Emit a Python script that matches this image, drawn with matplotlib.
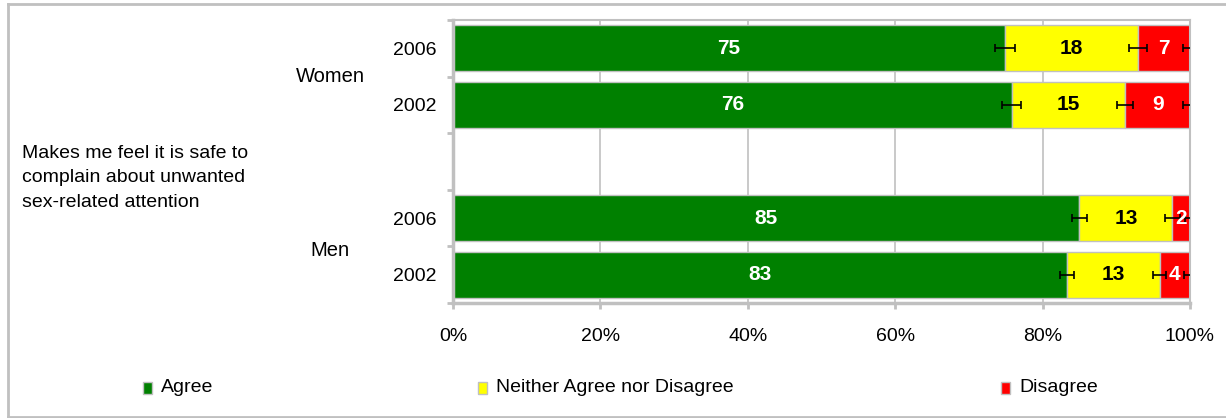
import matplotlib

matplotlib.use("Agg")
import matplotlib.pyplot as plt  # noqa: E402
from matplotlib.patches import Rectangle  # noqa: E402
from matplotlib.lines import Line2D  # noqa: E402

plt.rcParams["font.family"] = ["Liberation Sans", "DejaVu Sans"]

GREEN = "#008000"
YELLOW = "#ffff00"
RED = "#ff0000"
GREY = "#c0c0c0"

# rows top to bottom; slot 2 is an empty spacer between Women and Men
years = ["2006", "2002", "2006", "2002"]
slots = [0, 1, 3, 4]
groups = ["Women", "Men"]
agree = [74.9, 75.8, 85.0, 83.3]
neither = [18.0, 15.4, 12.6, 12.6]
disagree = [7.1, 8.8, 2.4, 4.1]
agree_err = [1.4, 1.25, 1.0, 1.0]
neither_err = [1.2, 1.1, 1.0, 0.9]
disagree_err = [1.0, 1.0, 0.7, 0.8]
series = ["Agree", "Neither Agree nor Disagree", "Disagree"]
question = "Makes me feel it is safe to\ncomplain about unwanted\nsex-related attention"

W, H = 1226, 418
fig = plt.figure(figsize=(W / 100, H / 100), dpi=100)
ax = fig.add_axes([453 / W, 1 - 303 / H, (1190 - 453) / W, (303 - 20) / H])

bh = 0.81
left2 = [a + n for a, n in zip(agree, neither)]
ax.barh(slots, agree, height=bh, color=GREEN, edgecolor=GREY, linewidth=1, zorder=2)
ax.barh(slots, neither, left=agree, height=bh, color=YELLOW, edgecolor=GREY, linewidth=1, zorder=2)
ax.barh(slots, disagree, left=left2, height=bh, color=RED, edgecolor=GREY, linewidth=1, zorder=2)

ends3 = [a + n + d for a, n, d in zip(agree, neither, disagree)]
for xs, errs in [(agree, agree_err), (left2, neither_err), (ends3, disagree_err)]:
    ax.errorbar(xs, slots, xerr=errs, fmt="none", ecolor="black", elinewidth=1.2,
                capsize=3.2, capthick=1.2, zorder=4)

for i, y in enumerate(slots):
    ax.text(agree[i] / 2, y, f"{round(agree[i])}", ha="center", va="center",
            color="white", fontsize=15, fontweight="bold", zorder=5)
    ax.text(agree[i] + neither[i] / 2, y, f"{round(neither[i])}", ha="center", va="center",
            color="black", fontsize=15, fontweight="bold", zorder=5)
    ax.text(left2[i] + disagree[i] / 2, y, f"{round(disagree[i])}", ha="center", va="center",
            color="white", fontsize=15, fontweight="bold", zorder=5)

ax.set_xlim(0, 100)
ax.set_ylim(4.5, -0.5)
ax.set_xticks([0, 20, 40, 60, 80, 100])
ax.set_xticklabels([f"{v}%" for v in [0, 20, 40, 60, 80, 100]], fontsize=14)
ax.set_yticks(slots)
ax.set_yticklabels(years, fontsize=14)
ax.set_yticks([-0.5, 0.5, 1.5, 2.5, 3.5, 4.5], minor=True)
ax.tick_params(axis="y", which="major", length=0, pad=12)
ax.tick_params(axis="y", which="minor", length=4, width=2, color=GREY)
ax.tick_params(axis="x", length=4, width=2, color=GREY, pad=14)
ax.grid(True, axis="x", color=GREY, linewidth=1.2, zorder=0)
ax.set_axisbelow(True)
for s in ["top", "right"]:
    ax.spines[s].set_color(GREY)
    ax.spines[s].set_linewidth(1.5)
for s in ["left", "bottom"]:
    ax.spines[s].set_color(GREY)
    ax.spines[s].set_linewidth(2.5)

fig.text(330 / W, 1 - 77 / H, groups[0], ha="center", va="center", fontsize=14.5)
fig.text(330 / W, 1 - 251 / H, groups[1], ha="center", va="center", fontsize=14.5)
fig.text(22 / W, 1 - 178 / H, question, ha="left", va="center", fontsize=14, linespacing=1.6)

# legend
for name, col, x in zip(series, [GREEN, YELLOW, RED], [143, 478, 1001]):
    fig.patches.append(Rectangle((x / W, 1 - 394 / H), 9 / W, 12 / H, transform=fig.transFigure,
                                 facecolor=col, edgecolor=GREY, linewidth=1))
    fig.text((x + 18) / W, 1 - 388 / H, name, ha="left", va="center", fontsize=14)

# outer frame (left, top, bottom)
for xs, ys in [([8, 8], [4, 417]), ([8, W], [4, 4]), ([8, W], [417, 417])]:
    fig.add_artist(Line2D([x / W for x in xs], [1 - y / H for y in ys], color=GREY,
                          linewidth=2, transform=fig.transFigure))

fig.savefig("out.png", dpi=100)
